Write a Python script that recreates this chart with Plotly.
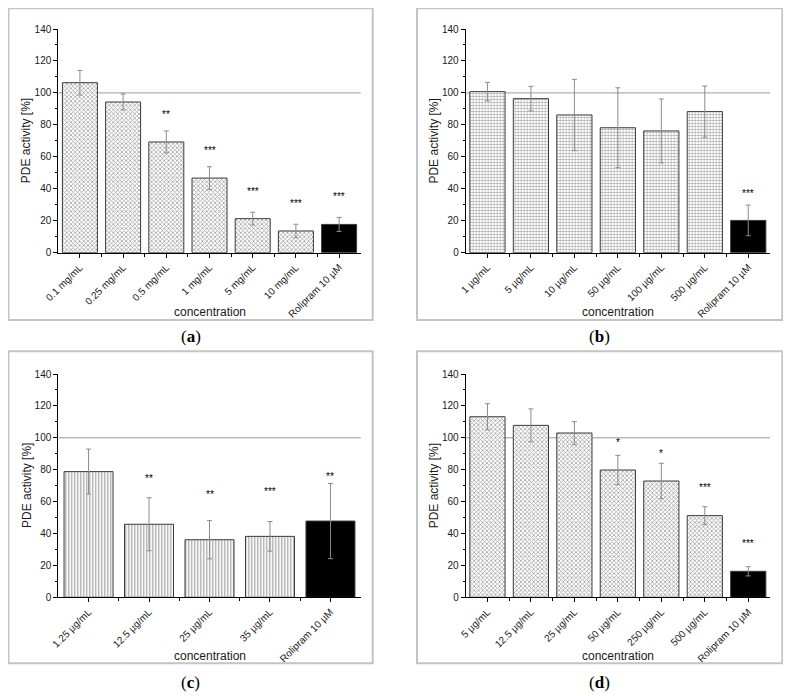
import plotly.graph_objects as go

# page body has an 8 px margin, so the figure is sized/offset to fit the 791x696 window
OFF = 8
W, H = 783, 688

# ---------------- data ----------------
reference_level = 100

a_labels = ["0.1 mg/mL", "0.25 mg/mL", "0.5 mg/mL", "1 mg/mL", "5 mg/mL", "10 mg/mL", "Rolipram 10 µM"]
a_values = [106.4, 94.3, 69.3, 46.7, 21.3, 13.6, 17.7]
a_errors = [7.7, 5.0, 6.9, 7.1, 4.0, 4.2, 4.4]
a_sig = ["", "", "**", "***", "***", "***", "***"]
a_sig_y = [None, None, 87.8, 65.1, 39.6, 31.9, 36.3]

b_labels = ["1 µg/mL", "5 µg/mL", "10 µg/mL", "50 µg/mL", "100 µg/mL", "500 µg/mL", "Rolipram 10 µM"]
b_values = [100.8, 96.4, 86.2, 78.2, 76.2, 88.3, 20.2]
b_errors = [5.8, 7.7, 22.3, 25.0, 20.0, 16.0, 9.6]
b_sig = ["", "", "", "", "", "", "***"]
b_sig_y = [None, None, None, None, None, None, 38.6]

c_labels = ["1.25 µg/mL", "12.5 µg/mL", "25 µg/mL", "35 µg/mL", "Rolipram 10 µM"]
c_values = [78.8, 45.8, 36.1, 38.2, 47.8]
c_errors = [14.1, 16.6, 12.0, 9.3, 23.6]
c_sig = ["", "**", "**", "***", "**"]
c_sig_y = [None, 75.6, 65.6, 67.7, 77.1]

d_labels = ["5 µg/mL", "12.5 µg/mL", "25 µg/mL", "50 µg/mL", "250 µg/mL", "500 µg/mL", "Rolipram 10 µM"]
d_values = [113.2, 107.8, 103.0, 79.8, 72.9, 51.2, 16.3]
d_errors = [8.2, 10.3, 7.1, 9.2, 11.1, 5.6, 2.9]
d_sig = ["", "", "", "*", "*", "***", "***"]
d_sig_y = [None, None, None, 98.4, 91.5, 70.0, 34.9]

captions = ["a", "b", "c", "d"]
y_title = "PDE activity [%]"
x_title = "concentration"

# ---------------- layout helpers ----------------
def px(x):
    return (x - OFF) / W

def py(y):
    return 1 - (y - OFF) / H

FONT = "Liberation Sans, Arial, sans-serif"
TXT = "#1a1a1a"

panels = [
    dict(labels=a_labels, values=a_values, errors=a_errors, sig=a_sig, sig_y=a_sig_y,
         shape="x", size=3, sol=0.45, plot=(58.3, 360.7, 29.0, 252.7), frame=(8.5, 372.7, 8.3, 320), cap_y=336),
    dict(labels=b_labels, values=b_values, errors=b_errors, sig=b_sig, sig_y=b_sig_y,
         shape="+", size=3, sol=0.35, plot=(465.7, 770.0, 29.0, 252.7), frame=(417, 782.3, 8.3, 320), cap_y=336),
    dict(labels=c_labels, values=c_values, errors=c_errors, sig=c_sig, sig_y=c_sig_y,
         shape="|", size=3, sol=0.4, plot=(58.3, 360.7, 374.0, 597.3), frame=(8.5, 372.7, 351.3, 663.3), cap_y=682),
    dict(labels=d_labels, values=d_values, errors=d_errors, sig=d_sig, sig_y=d_sig_y,
         shape="x", size=3, sol=0.45, plot=(465.7, 770.0, 374.0, 597.3), frame=(417, 782.3, 351.3, 663.3), cap_y=682),
]

fig = go.Figure()
shapes = []
annotations = []
layout_axes = {}

for k, p in enumerate(panels):
    n = len(p["labels"])
    xa = "x" if k == 0 else f"x{k+1}"
    ya = "y" if k == 0 else f"y{k+1}"
    xkey = "xaxis" if k == 0 else f"xaxis{k+1}"
    ykey = "yaxis" if k == 0 else f"yaxis{k+1}"
    x0, x1, ytop, ybot = p["plot"]

    colors = ["white"] * (n - 1) + ["black"]
    pshapes = [p["shape"]] * (n - 1) + [""]
    fig.add_trace(go.Bar(
        x=list(range(n)), y=p["values"], width=0.81,
        xaxis=xa, yaxis=ya,
        marker=dict(color=colors,
                    line=dict(color="#3a3a3a", width=1),
                    pattern=dict(shape=pshapes, size=p["size"], solidity=p["sol"],
                                 fgcolor="#3c3c3c", fillmode="overlay")),
        error_y=dict(type="data", array=p["errors"], visible=True,
                     color="#8c8c8c", thickness=1, width=2.5),
        showlegend=False, hoverinfo="skip",
    ))

    layout_axes[xkey] = dict(
        domain=[px(x0), px(x1)], anchor=ya, range=[-0.5, n - 0.5], automargin=False,
        tickmode="array", tickvals=list(range(n)), ticktext=p["labels"],
        tickangle=-45, ticks="outside", ticklen=4, tickcolor="black",
        showline=True, linecolor="black", linewidth=1,
        showgrid=False, zeroline=False,
        tickfont=dict(family=FONT, size=10, color=TXT),
        minor=dict(tickmode="array", tickvals=[i + 0.5 for i in range(n - 1)],
                   ticks="outside", ticklen=3, tickcolor="black"),
        fixedrange=True,
    )
    layout_axes[ykey] = dict(
        domain=[py(ybot), py(ytop)], anchor=xa, range=[0, 140], automargin=False,
        tickmode="linear", tick0=0, dtick=20,
        ticks="outside", ticklen=4, tickcolor="black",
        minor=dict(dtick=10, ticks="outside", ticklen=2, tickcolor="black"),
        showline=True, linecolor="black", linewidth=1,
        showgrid=False, zeroline=False,
        tickfont=dict(family=FONT, size=10, color=TXT),
        fixedrange=True,
    )

    # reference line at 100 %
    shapes.append(dict(type="line", xref=f"{xa} domain", yref=ya,
                       x0=0, x1=1, y0=reference_level, y1=reference_level,
                       line=dict(color="#9a9a9a", width=1), layer="below"))
    # panel frame
    fx0, fx1, fy0, fy1 = p["frame"]
    shapes.append(dict(type="rect", xref="paper", yref="paper",
                       x0=px(fx0), x1=px(fx1), y0=py(fy1), y1=py(fy0),
                       line=dict(color="#c4c4c4", width=2)))

    # significance marks
    for i, (s, sy) in enumerate(zip(p["sig"], p["sig_y"])):
        if s:
            annotations.append(dict(x=i, y=sy, xref=xa, yref=ya, text=s, showarrow=False,
                                    yanchor="middle", yshift=-2,
                                    font=dict(family=FONT, size=10, color="black")))

    # axis titles
    annotations.append(dict(x=px(x0 - 32), y=py((ytop + ybot) / 2), xref="paper", yref="paper",
                            text=y_title, textangle=-90, showarrow=False,
                            xanchor="center", yanchor="middle",
                            font=dict(family=FONT, size=12, color=TXT)))
    annotations.append(dict(x=px((x0 + x1) / 2), y=py(ybot + 59), xref="paper", yref="paper",
                            text=x_title, showarrow=False,
                            xanchor="center", yanchor="middle",
                            font=dict(family=FONT, size=12, color=TXT)))
    # caption
    annotations.append(dict(x=px((fx0 + fx1) / 2), y=py(p["cap_y"]), xref="paper", yref="paper",
                            text=f"(<b>{captions[k]}</b>)", showarrow=False,
                            xanchor="center", yanchor="middle",
                            font=dict(family="Liberation Serif, Times New Roman, serif", size=17, color="black")))

fig.update_layout(
    width=W, height=H,
    margin=dict(l=0, r=0, t=0, b=0, autoexpand=False),
    paper_bgcolor="white", plot_bgcolor="white",
    shapes=shapes, annotations=annotations,
    bargap=0.19,
    **layout_axes,
)

fig.write_html("out.html")
